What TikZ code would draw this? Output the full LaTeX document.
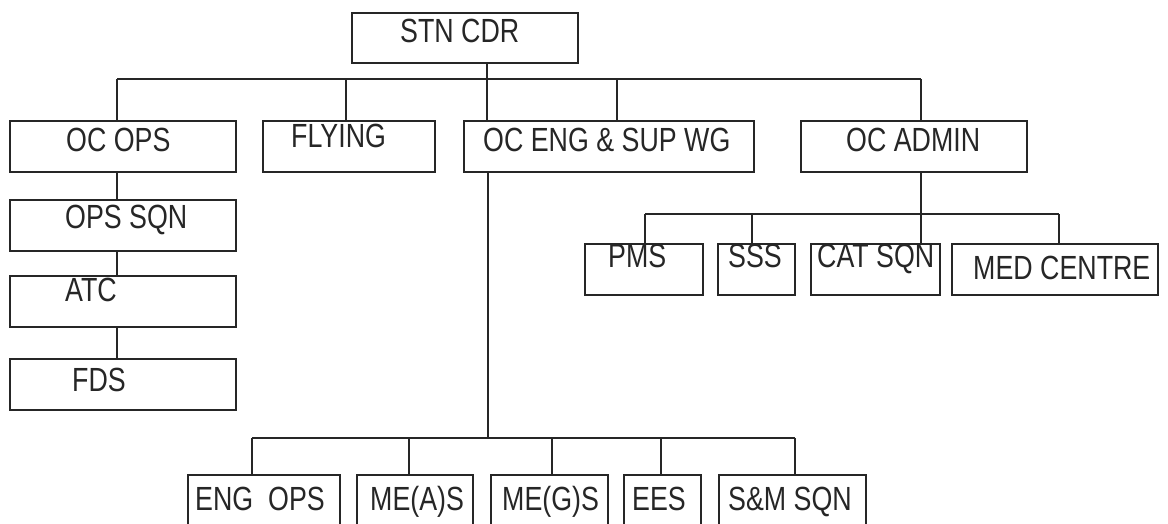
\documentclass[tikz,border=0pt]{standalone}
\usepackage{fontspec}
\setmainfont{Liberation Sans}[FakeStretch=0.8]
\usepackage{xcolor}
\usepackage{tikz}
\usetikzlibrary{positioning, calc}
\definecolor{ink}{HTML}{262626}
\tikzset{
    unit/.style={draw=ink, line width=2.6pt, rectangle, inner sep=0pt, minimum height=51pt},
    link/.style={draw=ink, line width=2.6pt},
    lbl/.style={anchor=base west, inner sep=0pt, text=ink, font=\fontsize{33.5}{40}\selectfont}
}

\begin{document}
\begin{tikzpicture}[x=1pt, y=-1pt]
    \useasboundingbox (0,0) rectangle (1168,524);
    \clip (0,0) rectangle (1168,524);
    % Station commander
    \node[unit, minimum width=226pt, minimum height=50pt] (stn) at (465,38) {};
    \node[lbl] (stn-t) at (400,43) {STN CDR};
    % Wings
    \node[unit, minimum width=226pt] (ops) at (123,146.5) {};
    \node[unit, minimum width=172pt] (fly) at (349,146.5) {};
    \node[unit, minimum width=290pt] (eng) at (609,146.5) {};
    \node[unit, minimum width=226pt] (adm) at (914,146.5) {};
    \node[lbl] (ops-t) at (66,152) {OC OPS};
    \node[lbl] (fly-t) at (291,148) {FLYING};
    \node[lbl] (eng-t) at (483,152) {OC ENG \& SUP WG};
    \node[lbl] (adm-t) at (846,152) {OC ADMIN};
    % Ops chain
    \node[unit, minimum width=226pt] (opssqn) at (123,225.5) {};
    \node[unit, minimum width=226pt] (atc) at (123,301.5) {};
    \node[unit, minimum width=226pt] (fds) at (123,384.5) {};
    \node[lbl] (opssqn-t) at (65,228) {OPS SQN};
    \node[lbl] (atc-t) at (65,301) {ATC};
    \node[lbl] (fds-t) at (72,391) {FDS};
    % Admin squadrons
    \node[unit, minimum width=118pt] (pms) at (644,269.5) {};
    \node[unit, minimum width=77pt] (sss) at (756.5,269.5) {};
    \node[unit, minimum width=129pt] (cat) at (875.5,269.5) {};
    \node[unit, minimum width=206pt] (med) at (1055,269.5) {};
    \node[lbl] (pms-t) at (608,267) {PMS};
    \node[lbl] (sss-t) at (728,267) {SSS};
    \node[lbl] (cat-t) at (817,267) {CAT SQN};
    \node[lbl] (med-t) at (973,279) {MED CENTRE};
    % Eng squadrons
    \node[unit, minimum width=152pt, minimum height=60pt] (engops) at (264,505) {};
    \node[unit, minimum width=116pt, minimum height=60pt] (meas) at (415,505) {};
    \node[unit, minimum width=117pt, minimum height=60pt] (megs) at (549.5,505) {};
    \node[unit, minimum width=77pt, minimum height=60pt] (ees) at (662.5,505) {};
    \node[unit, minimum width=147pt, minimum height=60pt] (sm) at (792.5,505) {};
    \node[lbl] (engops-t) at (195,510) {ENG\ \ OPS};
    \node[lbl] (meas-t) at (370,510) {ME(A)S};
    \node[lbl] (megs-t) at (502,510) {ME(G)S};
    \node[lbl] (ees-t) at (632,510) {EES};
    \node[lbl] (sm-t) at (728,510) {S\&M SQN};
    % Top bus
    \coordinate (topbus) at (487,79);
    \draw[link] (117,79) -- (921,79);
    \draw[link] (topbus |- stn.south) -- (topbus |- eng.north);
    \foreach \sx/\tgt in {117/ops, 346/fly, 617/eng, 921/adm}
        \draw[link] (\sx,79) -- (\sx,79 |- \tgt.north);
    % Ops line
    \coordinate (opsline) at (117,0);
    \draw[link] (opsline |- ops.south) -- (opsline |- opssqn.north);
    \draw[link] (opsline |- opssqn.south) -- (opsline |- atc.north);
    \draw[link] (opsline |- atc.south) -- (opsline |- fds.north);
    % Admin bus
    \coordinate (admbus) at (921,214);
    \draw[link] (admbus |- adm.south) -- (admbus |- cat.north);
    \draw[link] (645,214) -- (1059,214);
    \foreach \sx/\tgt in {645/pms, 752/sss, 1059/med}
        \draw[link] (\sx,214) -- (\sx,214 |- \tgt.north);
    % Eng bus
    \coordinate (engbus) at (488,438);
    \draw[link] (engbus |- eng.south) -- (engbus);
    \draw[link] (252,438) -- (795,438);
    \foreach \sx/\tgt in {252/engops, 409/meas, 552/megs, 661/ees, 795/sm}
        \draw[link] (\sx,438) -- (\sx,438 |- \tgt.north);
\end{tikzpicture}
\end{document}
